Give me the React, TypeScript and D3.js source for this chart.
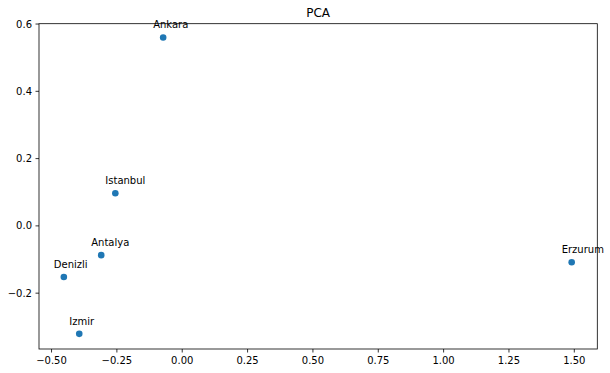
import React from "react";
import * as d3 from "d3";

const cities = ["Ankara", "Istanbul", "Antalya", "Denizli", "Izmir", "Erzurum"];
const pc1 = [-0.073, -0.256, -0.31, -0.453, -0.394, 1.49];
const pc2 = [0.56, 0.097, -0.087, -0.152, -0.321, -0.108];
const xTicks = [-0.5, -0.25, 0, 0.25, 0.5, 0.75, 1.0, 1.25, 1.5];
const yTicks = [-0.2, 0, 0.2, 0.4, 0.6];
const title = "PCA";

const W = 610, H = 373;
const m = { left: 39, right: 597.3, top: 23.7, bottom: 349 };

export default function App() {
  const x = d3.scaleLinear().domain([-0.548, 1.588]).range([m.left, m.right]);
  const y = d3.scaleLinear().domain([-0.366, 0.601]).range([m.bottom, m.top]);
  const font = "DejaVu Sans, sans-serif";
  const minus = (s: string) => s.replace("-", "\u2212");
  return (
    <svg width={W} height={H} style={{ position: "absolute", left: 0, top: 0, background: "#fff" }} fontFamily={font}>
      <rect x={0} y={0} width={W} height={H} fill="#fff" />
      <text x={(m.left + m.right) / 2} y={17} textAnchor="middle" fontSize={12} fill="#000">{title}</text>
      {xTicks.map((t) => (
        <g key={"x" + t}>
          <line x1={x(t)} x2={x(t)} y1={m.bottom} y2={m.bottom + 3.5} stroke="#000" strokeWidth={0.8} />
          <text x={x(t)} y={m.bottom + 14.5} textAnchor="middle" fontSize={10} fill="#000">{minus(d3.format(".2f")(t))}</text>
        </g>
      ))}
      {yTicks.map((t) => (
        <g key={"y" + t}>
          <line x1={m.left - 3.5} x2={m.left} y1={y(t)} y2={y(t)} stroke="#000" strokeWidth={0.8} />
          <text x={m.left - 7} y={y(t) + 3.6} textAnchor="end" fontSize={10} fill="#000">{minus(d3.format(".1f")(t))}</text>
        </g>
      ))}
      <rect x={m.left} y={m.top} width={m.right - m.left} height={m.bottom - m.top} fill="none" stroke="#000" strokeWidth={0.8} />
      {cities.map((c, i) => (
        <g key={c}>
          <circle cx={x(pc1[i])} cy={y(pc2[i])} r={3.3} fill="#1f77b4" />
          <text x={x(pc1[i]) - 10} y={y(pc2[i]) - 9} textAnchor="start" fontSize={10} fill="#000">{c}</text>
        </g>
      ))}
    </svg>
  );
}
